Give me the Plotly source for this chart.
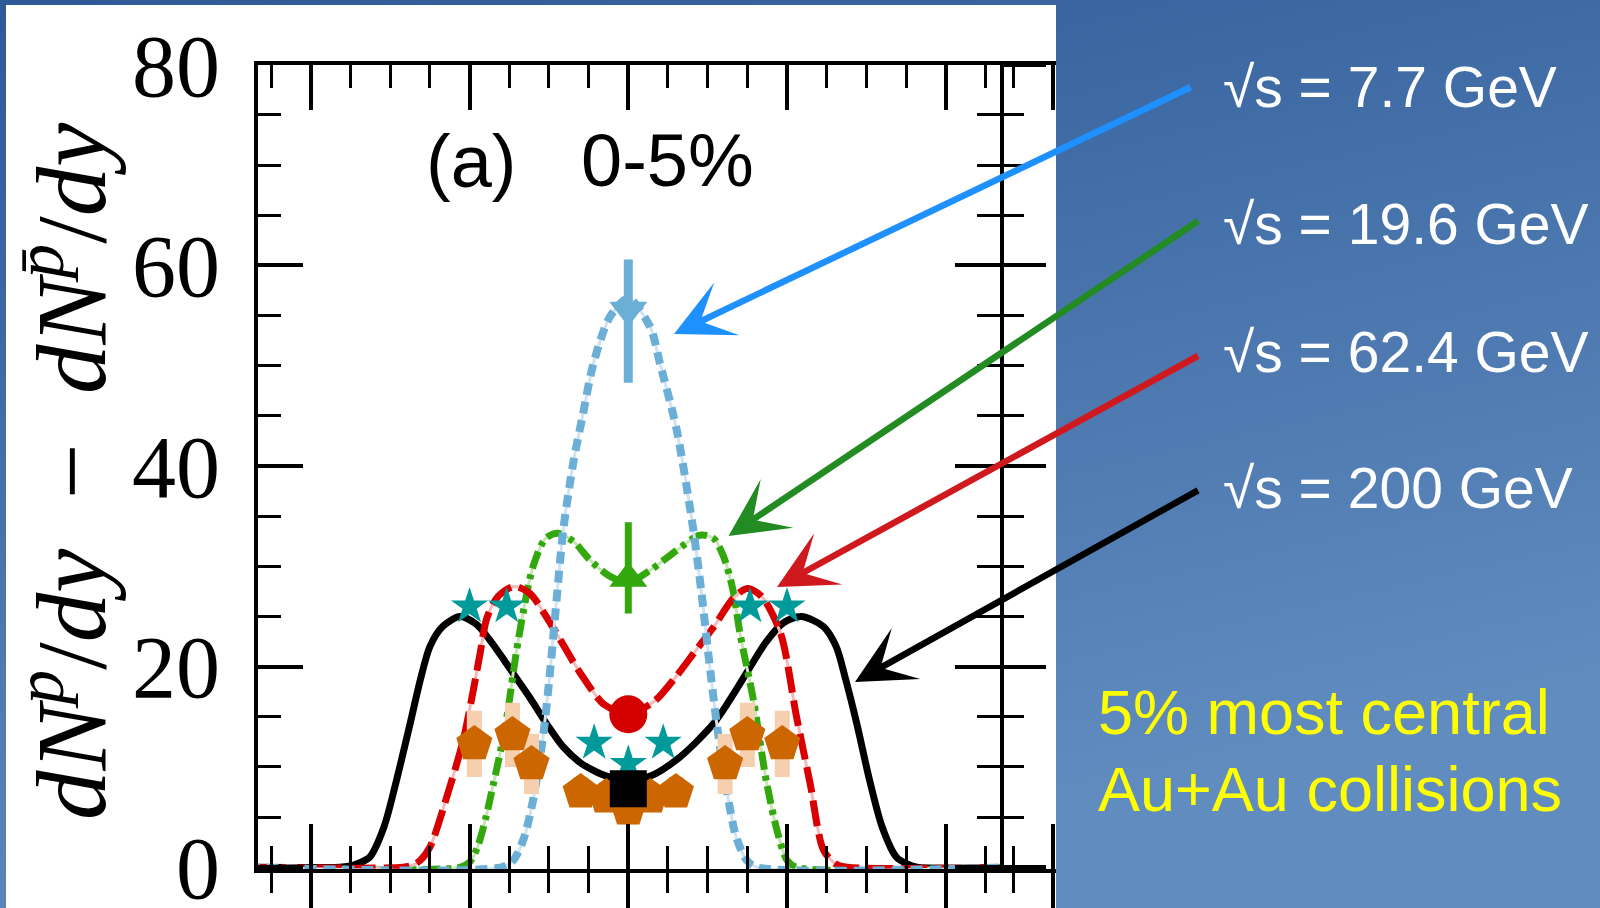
import base64
import plotly.graph_objects as go

W, H = 1600, 908

# ---------------- data ----------------
# model curves: net-proton dN/dy versus rapidity y
rap_200 = [-2.40, -1.82, -1.76, -1.70, -1.63, -1.54, -1.46, -1.375, -1.31, -1.25, -1.17, -1.06,
           -0.955, -0.87, -0.78, -0.72, -0.62, -0.51, -0.41, -0.30, -0.20, -0.10, 0.0, 0.14,
           0.326, 0.536, 0.64, 0.75, 0.87, 0.98, 1.09, 1.23, 1.31, 1.37, 1.44, 1.52, 1.60,
           1.69, 1.76, 1.82, 2.40]
net_200 = [0.0, 0.0, 0.1, 0.4, 1.0, 4.0, 8.7, 14.3, 18.7, 22.0, 24.0, 25.0,
           24.2, 22.6, 20.6, 19.2, 16.9, 14.2, 12.0, 10.4, 9.5, 8.9, 8.7, 9.1,
           11.0, 14.3, 16.7, 19.5, 22.5, 24.4, 25.0, 24.0, 22.0, 18.7, 14.3, 8.7, 4.0,
           1.0, 0.3, 0.0, 0.0]

rap_62 = [-2.40, -1.42, -1.36, -1.31, -1.25, -1.144, -1.04, -0.976, -0.934, -0.89, -0.82, -0.72,
          -0.62, -0.49, -0.30, -0.15, 0.0, 0.16, 0.30, 0.42, 0.54, 0.66, 0.75, 0.84, 0.96, 1.06,
          1.145, 1.23, 1.31, 1.38, 2.40]
net_62 = [0.0, 0.0, 0.2, 0.7, 2.0, 7.0, 12.7, 17.7, 21.3, 24.9, 27.0, 28.0,
          27.3, 24.3, 19.3, 16.2, 15.3, 16.5, 19.0, 21.5, 24.0, 26.8, 27.8, 27.0, 23.3, 15.0,
          8.4, 1.7, 0.3, 0.0, 0.0]

rap_19 = [-2.40, -1.06, -1.00, -0.95, -0.90, -0.85, -0.80, -0.76, -0.71, -0.66, -0.60, -0.52,
          -0.44, -0.34, -0.24, -0.115, 0.0, 0.137, 0.305, 0.45, 0.536, 0.60, 0.66, 0.704,
          0.788, 0.872, 0.94, 1.00, 1.06, 2.40]
net_19 = [0.0, 0.0, 0.5, 2.0, 4.8, 8.3, 12.0, 15.5, 21.0, 25.6, 30.0, 32.8,
          33.3, 32.4, 30.6, 29.0, 28.4, 29.6, 31.6, 33.1, 32.8, 31.0, 27.6, 23.3,
          16.7, 8.4, 3.5, 0.7, 0.0, 0.0]

rap_7 = [-2.40, -0.80, -0.725, -0.66, -0.60, -0.535, -0.49, -0.45, -0.41, -0.347, -0.284, -0.22,
         -0.115, 0.0, 0.137, 0.20, 0.305, 0.41, 0.46, 0.51, 0.56, 0.62, 0.68, 0.746, 0.81, 2.40]
net_7 = [0.0, 0.0, 0.7, 2.8, 6.7, 13.3, 20.0, 27.0, 33.6, 40.3, 45.3, 50.2,
         54.9, 56.7, 53.9, 50.2, 43.6, 33.6, 27.5, 20.5, 14.0, 7.7, 3.0, 0.7, 0.0, 0.0]

# measured points at mid-rapidity (STAR)
mid_rap = [0.0]
star_7 = [55.55]
star_7_up = [5.05]
star_7_dn = [7.25]
star_19 = [28.8]
star_19_up = [5.6]
star_19_dn = [3.5]
star_62 = [15.25]
star_200 = [7.83]

# BRAHMS 200 GeV (stars)
brahms200_rap = [-1.0, -0.766, -0.215, 0.0, 0.22, 0.767, 1.0]
brahms200_net = [26.0, 26.0, 12.4, 10.3, 12.4, 26.0, 26.0]

# BRAHMS 62.4 GeV (pentagons) with systematic errors
brahms62_rap = [-0.97, -0.73, -0.61, -0.30, -0.14, 0.0, 0.14, 0.30, 0.61, 0.75, 0.97]
brahms62_net = [12.3, 13.2, 10.3, 7.5, 7.0, 5.8, 7.0, 7.5, 10.3, 13.2, 12.3]
brahms62_sys = [3.3, 3.2, 3.0, 1.5, 1.5, 1.5, 1.5, 1.5, 3.0, 3.2, 3.3]

y_tickvals = [0, 20, 40, 60, 80]
energy_labels = ["√s = 7.7 GeV", "√s = 19.6 GeV", "√s = 62.4 GeV", "√s = 200 GeV"]
panel_label = "(a)"
centrality_label = "0-5%"
note_lines = ["5% most central", "Au+Au collisions"]

# ---------------- geometry (pixels) ----------------
X_LEFT, X_RIGHT = 257.7, 1000.0
Y_TOP, Y_BOT = 64.5, 869.3
X_RANGE = [-2.335, 2.342]
Y_RANGE = [-0.2, 80.03]
PANEL_B_RIGHT = 1056.0
x_per_px = (X_RANGE[1] - X_RANGE[0]) / (X_RIGHT - X_LEFT)
X2_RANGE = [X_RANGE[0], X_RANGE[0] + (PANEL_B_RIGHT - X_RIGHT) * x_per_px]


def px(x):
    return x / W


def py(y):
    return 1 - y / H


fig = go.Figure()


def model(x, y, color, under, dash, width):
    fig.add_trace(go.Scatter(x=x, y=y, mode="lines", hoverinfo="skip",
                             line=dict(color=under, width=3, shape="spline", smoothing=0.8)))
    fig.add_trace(go.Scatter(x=x, y=y, mode="lines", hoverinfo="skip",
                             line=dict(color=color, width=width, dash=dash, shape="spline",
                                       smoothing=0.8)))


fig.add_trace(go.Scatter(x=rap_200, y=net_200, mode="lines",
                         line=dict(color="black", width=7, shape="spline", smoothing=0.8)))
model(rap_19, net_19, "#33a80c", "#c4e6b3", "18px,6px,5px,6px", 7)
model(rap_62, net_62, "#d80000", "#f6b8b8", "26px,8px", 7)
model(rap_7, net_7, "#6baed6", "#cfe3f2", "12px,7px", 8)

# BRAHMS 200 GeV stars
fig.add_trace(go.Scatter(x=brahms200_rap, y=brahms200_net, mode="markers",
                         marker=dict(symbol="star", size=28, color="#009a9a", line_width=0)))
# BRAHMS 62.4 GeV pentagons with sys. boxes
fig.add_trace(go.Scatter(x=brahms62_rap, y=brahms62_net, mode="markers",
                         error_y=dict(type="data", array=brahms62_sys, color="#f5cfae",
                                      thickness=15, width=0),
                         marker=dict(symbol="pentagon", size=38, color="#cc6600", line_width=0)))
# STAR points
fig.add_trace(go.Scatter(x=mid_rap, y=star_62, mode="markers",
                         marker=dict(symbol="circle", size=38, color="#d40000", line_width=0)))
fig.add_trace(go.Scatter(x=mid_rap, y=star_19, mode="markers",
                         error_y=dict(type="data", symmetric=False, array=star_19_up,
                                      arrayminus=star_19_dn, color="#33a80c", thickness=7, width=0),
                         marker=dict(symbol="triangle-up", size=33, color="#33a80c", line_width=0)))
fig.add_trace(go.Scatter(x=mid_rap, y=star_7, mode="markers",
                         error_y=dict(type="data", symmetric=False, array=star_7_up,
                                      arrayminus=star_7_dn, color="#6baed6", thickness=9, width=0),
                         marker=dict(symbol="triangle-down", size=33, color="#6baed6", line_width=0)))
fig.add_trace(go.Scatter(x=mid_rap, y=star_200, mode="markers",
                         marker=dict(symbol="square", size=37, color="black", line_width=0)))

# empty traces that attach auxiliary axes
for xa, ya in [("x2", "y"), ("x3", "y"), ("x4", "y"), ("x", "y2")]:
    fig.add_trace(go.Scatter(x=[], y=[], xaxis=xa, yaxis=ya, hoverinfo="skip"))

tick_major = dict(ticklen=45, tickwidth=4, tickcolor="black")
minor_x = dict(dtick=0.25, tick0=0, ticklen=23, tickwidth=3, tickcolor="black", showgrid=False)
minor_y = dict(dtick=5, tick0=0, ticklen=23, tickwidth=3, tickcolor="black", showgrid=False)
xdom = [px(X_LEFT), px(X_RIGHT)]
ydom = [py(Y_BOT), py(Y_TOP)]

common_x = dict(showgrid=False, zeroline=False, showticklabels=False, tick0=0, dtick=1,
                automargin=False)

fig.update_layout(
    template="none",
    width=W, height=H, autosize=False, showlegend=False,
    margin=dict(l=0, r=0, t=0, b=0, pad=0, autoexpand=False),
    paper_bgcolor="#4670aa", plot_bgcolor="rgba(0,0,0,0)",
    xaxis=dict(domain=xdom, range=X_RANGE, anchor="y", showline=True, linewidth=4,
               linecolor="black", mirror="ticks", ticks="inside",
               minor=dict(ticks="inside", **minor_x), **tick_major, **common_x),
    xaxis3=dict(overlaying="x", range=X_RANGE, anchor="y", side="bottom", showline=False,
                ticks="outside", minor=dict(ticks="outside", **minor_x), **tick_major, **common_x),
    xaxis2=dict(domain=[px(X_RIGHT), px(PANEL_B_RIGHT)], range=X2_RANGE, anchor="y",
                showline=True, linewidth=4, linecolor="black", mirror="ticks", ticks="inside",
                minor=dict(ticks="inside", **minor_x), **tick_major, **common_x),
    xaxis4=dict(overlaying="x2", range=X2_RANGE, anchor="y", side="bottom", showline=False,
                ticks="outside", minor=dict(ticks="outside", **minor_x), **tick_major, **common_x),
    yaxis=dict(domain=ydom, range=Y_RANGE, anchor="x", showline=True, linewidth=4,
               linecolor="black", mirror="ticks", ticks="inside", tickvals=y_tickvals,
               minor=dict(ticks="inside", **minor_y), **tick_major, automargin=False,
               showgrid=False, zeroline=False, ticklabelstandoff=16, ticklabeloverflow="allow",
               tickfont=dict(family="Liberation Serif", size=88, color="black")),
    yaxis2=dict(overlaying="y", range=Y_RANGE, anchor="x", side="right", showline=False,
                ticks="outside", tickvals=y_tickvals, minor=dict(ticks="outside", **minor_y),
                **tick_major, showgrid=False, zeroline=False, showticklabels=False,
                automargin=False),
)

# background: gradient slide + white figure area
svg = (f'<svg xmlns="http://www.w3.org/2000/svg" width="{W}" height="{H}" viewBox="0 0 {W} {H}" '
       f'preserveAspectRatio="none"><defs><linearGradient id="g" x1="0" y1="0" x2="0.4" y2="1">'
       f'<stop offset="0" stop-color="#2d5996"/><stop offset="1" stop-color="#618cc0"/>'
       f'</linearGradient></defs><rect width="{W}" height="{H}" fill="url(#g)"/></svg>')
src = "data:image/svg+xml;base64," + base64.b64encode(svg.encode()).decode()
fig.add_layout_image(dict(source=src, xref="paper", yref="paper", x=0, y=1, sizex=1, sizey=1,
                          xanchor="left", yanchor="top", sizing="stretch", layer="below"))
fig.add_shape(type="rect", xref="paper", yref="paper", x0=px(6), x1=px(PANEL_B_RIGHT),
              y0=0, y1=py(5), fillcolor="white", line_width=0, layer="below")

ann = []
nb = "\u00a0"
ytitle = (f"<i>dN</i><sup><i>p</i></sup>/<i>dy</i>{nb}{nb}\u2212{nb}{nb}"
          f"<i>dN</i><sup><i>p\u0304</i></sup>/<i>dy</i>")
ann.append(dict(text=ytitle, x=px(63), y=py(472), xref="paper", yref="paper", textangle=-90,
                showarrow=False, xanchor="center", yanchor="middle",
                font=dict(family="Liberation Serif", size=99, color="black")))
ann.append(dict(text=panel_label, x=px(471), y=py(161), xref="paper", yref="paper",
                showarrow=False, xanchor="center", yanchor="middle",
                font=dict(family="Liberation Sans", size=74, color="black")))
ann.append(dict(text=centrality_label, x=px(667), y=py(160), xref="paper", yref="paper",
                showarrow=False, xanchor="center", yanchor="middle",
                font=dict(family="Liberation Sans", size=74, color="black")))

label_y = [87, 224, 352, 488]
for lab, yy in zip(energy_labels, label_y):
    ann.append(dict(text=lab, x=px(1221), y=py(yy), xref="paper", yref="paper",
                    showarrow=False, xanchor="left", yanchor="middle",
                    font=dict(family="Liberation Sans", size=57, color="white")))

for lab, yy in zip(note_lines, [712, 789]):
    ann.append(dict(text=lab, x=px(1096), y=py(yy), xref="paper", yref="paper",
                    showarrow=False, xanchor="left", yanchor="middle",
                    font=dict(family="Liberation Sans", size=63, color="#ffff00")))

arrows = [((674, 334), (1192, 86.5), "#1e90ff"),
          ((728.5, 536), (1199.5, 220), "#228b22"),
          ((777, 587), (1199.5, 355), "#d0191f"),
          ((855, 682), (1199.5, 489.5), "black")]
for (tx, ty), (sx, sy), col in arrows:
    ann.append(dict(text="", x=px(tx), y=py(ty), xref="paper", yref="paper",
                    ax=sx - tx, ay=sy - ty, axref="pixel", ayref="pixel", showarrow=True,
                    arrowhead=3, arrowsize=1.5, arrowwidth=6.5, arrowcolor=col,
                    standoff=0, startstandoff=0))

fig.update_layout(annotations=ann)
fig.write_html("out.html")
